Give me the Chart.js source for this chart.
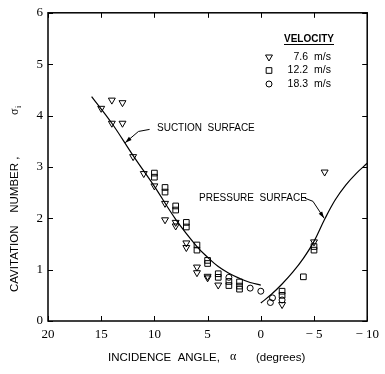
<!DOCTYPE html>
<html>
<head>
<meta charset="utf-8">
<script src="https://cdn.jsdelivr.net/npm/chart.js@4/dist/chart.umd.min.js"></script>
<style>
html, body { margin: 0; padding: 0; background: #fff; }
</style>
</head>
<body>
<canvas id="chart" width="385" height="374"></canvas>
<script>
// values: [incidence angle (deg), cavitation number]
const velocityLabels = ['7.6', '12.2', '18.3'];
const v76 = [[15, 4.14], [14, 4.30], [13, 4.25], [14, 3.85], [13, 3.85], [12, 3.20], [11, 2.87],
    [10, 2.63], [9, 2.29], [9, 1.97], [8, 1.92], [8, 1.85], [7, 1.52], [7, 1.43], [6, 1.05],
    [6, 0.94], [5, 0.87], [5, 0.84], [4, 0.70], [-2, 0.32], [-5, 1.54], [-6, 2.90]];
const v122 = [[10, 2.88], [10, 2.80], [9, 2.60], [9, 2.51], [8, 2.24], [8, 2.16], [7, 1.92], [7, 1.83],
    [6, 1.48], [6, 1.38], [5, 1.18], [5, 1.12], [4, 0.92], [4, 0.85], [3, 0.77], [3, 0.69],
    [2, 0.76], [2, 0.68], [2, 0.62], [-2, 0.58], [-2, 0.50], [-4, 0.86], [-5, 1.45], [-5, 1.38]];
const v183 = [[3, 0.85], [1, 0.64], [0, 0.58], [-0.9, 0.36], [-1.1, 0.45], [-2, 0.41]];
const suction = [[15.9, 4.37], [14, 3.85], [12, 3.22], [10, 2.62], [8, 1.98], [6, 1.45], [5, 1.24],
    [4, 1.06], [3, 0.93], [2, 0.83], [1, 0.75], [0, 0.70]];
const pressure = [[0, 0.35], [-1, 0.52], [-2, 0.72], [-3, 0.95], [-4, 1.22], [-5, 1.55], [-6, 1.98],
    [-7, 2.36], [-8, 2.65], [-9, 2.88], [-10, 3.07]];
const xTicks = [20, 15, 10, 5, 0, -5, -10];
const yTicks = [0, 1, 2, 3, 4, 5, 6];

const toXY = arr => arr.map(p => ({ x: p[0], y: p[1] }));
const serif = '"Liberation Serif", "DejaVu Serif", serif';
const sans = '"Liberation Sans", Arial, sans-serif';

const markers = [
    { pointStyle: 'triangle', rotation: 180, radius: 4 },
    { pointStyle: 'rect', rotation: 0, radius: 4 },
    { pointStyle: 'circle', rotation: 0, radius: 3 }
];

function markerSet(label, data, m) {
    return {
        label: label, data: toXY(data), showLine: false,
        pointStyle: m.pointStyle, rotation: m.rotation, pointRadius: m.radius,
        pointBorderColor: '#000', pointBackgroundColor: 'rgba(0,0,0,0)', pointBorderWidth: 1
    };
}

function curveSet(data) {
    return {
        data: toXY(data), showLine: true, borderColor: '#000', borderWidth: 1.2,
        pointRadius: 0, tension: 0.4, fill: false
    };
}

function arrow(ctx, x0, y0, x1, y1) {
    const a = Math.atan2(y1 - y0, x1 - x0);
    ctx.beginPath();
    ctx.moveTo(x1, y1);
    ctx.lineTo(x1 - 7 * Math.cos(a - 0.3), y1 - 7 * Math.sin(a - 0.3));
    ctx.lineTo(x1 - 7 * Math.cos(a + 0.3), y1 - 7 * Math.sin(a + 0.3));
    ctx.closePath();
    ctx.fill();
}

const decor = {
    id: 'decor',
    afterDraw(chart) {
        const ctx = chart.ctx;
        const a = chart.chartArea;
        const xs = chart.scales.x, ys = chart.scales.y;
        const px = v => xs.getPixelForValue(v), py = v => ys.getPixelForValue(v);
        ctx.save();
        ctx.strokeStyle = '#000';
        ctx.fillStyle = '#000';

        // frame with inward ticks
        ctx.lineWidth = 1.5;
        ctx.strokeRect(a.left, a.top, a.right - a.left, a.bottom - a.top);
        ctx.lineWidth = 1;
        ctx.beginPath();
        xTicks.forEach(t => {
            const x = Math.round(px(t)) + 0.5;
            ctx.moveTo(x, a.bottom); ctx.lineTo(x, a.bottom - 5);
            ctx.moveTo(x, a.top); ctx.lineTo(x, a.top + 5);
        });
        yTicks.forEach(t => {
            const y = Math.round(py(t)) + 0.5;
            ctx.moveTo(a.left, y); ctx.lineTo(a.left + 5, y);
            ctx.moveTo(a.right, y); ctx.lineTo(a.right - 5, y);
        });
        ctx.stroke();

        // axis titles
        ctx.textBaseline = 'middle';
        ctx.textAlign = 'left';
        ctx.font = '11.5px ' + sans;
        ctx.fillText('INCIDENCE  ANGLE,', 108, 358);
        ctx.font = '12px ' + serif;
        ctx.fillText('\u03b1', 230, 357);
        ctx.font = '11.5px ' + sans;
        ctx.fillText('(degrees)', 256, 358);

        ctx.save();
        ctx.translate(15, 0);
        ctx.rotate(-Math.PI / 2);
        ctx.font = '11.5px ' + sans;
        ctx.fillText('CAVITATION    NUMBER ,', -292, 0);
        ctx.font = '12px ' + serif;
        ctx.fillText('\u03c3', -115, 0);
        ctx.font = '8px ' + serif;
        ctx.fillText('i', -108, 4);
        ctx.restore();

        // curve labels with leaders
        ctx.font = '10px ' + sans;
        ctx.fillText('SUCTION  SURFACE', 157, 128);
        ctx.fillText('PRESSURE  SURFACE', 199, 198);
        ctx.lineWidth = 1;
        ctx.beginPath();
        ctx.moveTo(px(10.45), py(3.73));
        ctx.lineTo(px(11.5), py(3.69));
        ctx.lineTo(px(12.75), py(3.47));
        ctx.stroke();
        arrow(ctx, px(11.5), py(3.69), px(12.75), py(3.47));
        ctx.beginPath();
        ctx.moveTo(px(-4.15), py(2.39));
        ctx.lineTo(px(-4.9), py(2.33));
        ctx.lineTo(px(-5.95), py(2.0));
        ctx.stroke();
        arrow(ctx, px(-4.9), py(2.33), px(-5.95), py(2.0));

        // legend
        ctx.font = 'bold 10px ' + sans;
        ctx.textAlign = 'center';
        ctx.fillText('VELOCITY', 309, 39);
        const w = ctx.measureText('VELOCITY').width;
        ctx.fillRect(309 - w / 2, 44, w, 1);
        ctx.font = '10.5px ' + sans;
        velocityLabels.forEach((lab, i) => {
            const y = 57 + i * 13.5;
            const m = markers[i];
            ctx.fillStyle = '#fff';
            ctx.strokeStyle = '#000';
            ctx.lineWidth = 1;
            Chart.helpers.drawPoint(ctx, { pointStyle: m.pointStyle, rotation: m.rotation, radius: m.radius, borderWidth: 1 }, 269, y);
            ctx.fillStyle = '#000';
            ctx.textAlign = 'right';
            ctx.fillText(lab, 308, y);
            ctx.textAlign = 'left';
            ctx.fillText('m/s', 314, y);
        });
        ctx.restore();
    }
};

new Chart(document.getElementById('chart'), {
    type: 'scatter',
    data: {
        datasets: [
            markerSet('7.6 m/s', v76, markers[0]),
            markerSet('12.2 m/s', v122, markers[1]),
            markerSet('18.3 m/s', v183, markers[2]),
            curveSet(suction),
            curveSet(pressure)
        ]
    },
    options: {
        responsive: false,
        animation: false,
        layout: { padding: { top: 12, right: 15, left: 0, bottom: 0 } },
        plugins: { legend: { display: false }, tooltip: { enabled: false } },
        scales: {
            x: {
                type: 'linear', min: -10, max: 20, reverse: true,
                afterFit: s => { s.height = 53; },
                afterBuildTicks: s => { s.ticks = xTicks.map(v => ({ value: v })); },
                grid: { display: false, drawTicks: false },
                border: { display: false },
                ticks: {
                    color: '#000', padding: 6, maxRotation: 0, autoSkip: false,
                    font: { family: serif, size: 13 },
                    callback: v => v < 0 ? '\u2212 ' + Math.abs(v) : String(v)
                }
            },
            y: {
                type: 'linear', min: 0, max: 6,
                afterFit: s => { s.width = 48; },
                afterBuildTicks: s => { s.ticks = yTicks.map(v => ({ value: v })); },
                grid: { display: false, drawTicks: false },
                border: { display: false },
                ticks: {
                    color: '#000', padding: 5,
                    font: { family: serif, size: 13 }
                }
            }
        }
    },
    plugins: [decor]
});
</script>
</body>
</html>
